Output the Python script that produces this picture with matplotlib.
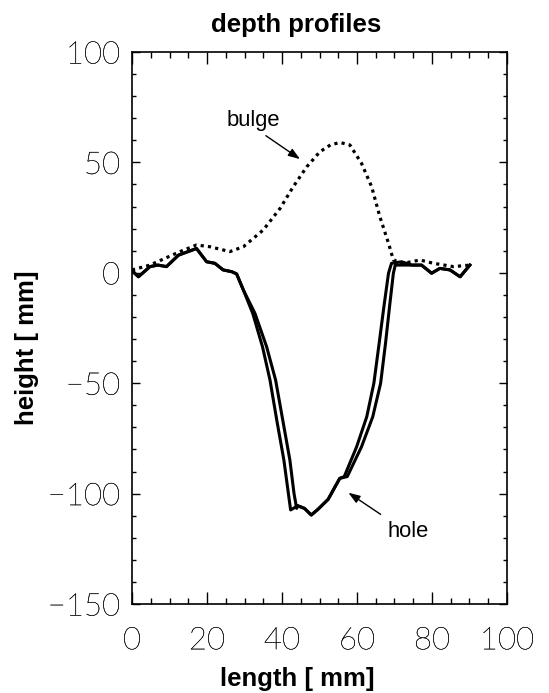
import numpy as np
import matplotlib.pyplot as plt
import matplotlib.patheffects as pe
from matplotlib.ticker import MultipleLocator

# bulge profile (dotted)
bulge_x = [0, 4.8, 12.8, 17.2, 20.8, 26.1, 29.7, 35.0, 39.5, 43.0, 46.6, 50.1,
           53.0, 55.5, 58.1, 61.2, 63.9, 66.1, 68.4, 69.7, 72.4, 76.8, 80.4, 85.7, 90.1]
bulge_y = [1.3, 3.5, 9.6, 12.6, 11.8, 9.6, 11.8, 19.4, 29.2, 39.0, 48.0, 54.8,
           58.0, 59.0, 57.9, 49.6, 39.0, 25.4, 13.4, 5.8, 4.3, 5.8, 4.3, 2.8, 3.5]

# hole profiles (solid), two measurements
hole1_x = [0, 1.7, 4.8, 6.9, 9.2, 12.4, 17.2, 19.9, 22.1, 24.3, 26.6, 27.9,
           29.7, 32.2, 34.8, 36.8, 38.6, 40.5, 41.7, 42.3, 44.2, 46.0, 47.8,
           49.6, 52.3, 55.4, 56.6, 59.9, 62.6, 64.5, 65.9, 67.2, 68.4, 69.2,
           71.9, 74.6, 77.2, 79.9, 82.1, 84.8, 87.5, 90.1]
hole1_y = [1.0, -1.8, 2.8, 3.5, 2.8, 8.0, 11.0, 5.0, 4.3, 1.3, 0.5, -0.5,
           -7.8, -18.4, -33.5, -48.6, -66.7, -84.8, -99.9, -107.4, -105.5, -106.7, -109.7,
           -107.1, -102.6, -93.1, -92.3, -78.8, -65.2, -50.0, -32.0, -15.0, -0.2, 4.3,
           5.0, 3.5, 3.5, -0.2, 2.0, 1.3, -1.8, 3.5]
hole2_x = [0, 1.7, 4.8, 6.9, 9.2, 12.4, 17.2, 19.9, 22.1, 24.3, 26.6, 27.9,
           29.7, 32.8, 35.9, 38.3, 40.2, 42.1, 43.2, 43.9, 44.2, 46.0, 47.8,
           49.6, 52.3, 55.4, 57.4, 61.2, 64.2, 66.3, 67.6, 68.7, 69.7, 70.2,
           72.4, 74.6, 77.2, 79.9, 82.1, 84.8, 87.5, 90.1]
hole2_y = [1.0, -1.8, 2.8, 3.5, 2.8, 8.0, 11.0, 5.0, 4.3, 1.3, 0.5, -0.5,
           -7.8, -18.4, -33.5, -48.6, -66.7, -84.8, -99.9, -106.7, -105.5, -106.7, -109.7,
           -107.1, -102.6, -93.1, -92.3, -78.8, -65.2, -50.0, -32.0, -15.0, -0.2, 3.5,
           3.5, 3.5, 3.5, -0.2, 2.0, 1.3, -1.8, 3.5]

W, H = 549, 693
tick_font = {'family': 'Lato', 'weight': 'light', 'size': 22.5}
label_font = {'family': 'Liberation Sans', 'weight': 'bold', 'size': 18.5}
note_font = {'family': 'Liberation Sans', 'size': 15.8}

fig = plt.figure(figsize=(W / 100, H / 100), dpi=100)
ax = fig.add_axes([132 / W, 1 - 604 / H, 375 / W, 552 / H])

ax.plot(hole1_x, hole1_y, color='black', lw=2.2)
ax.plot(hole2_x, hole2_y, color='black', lw=2.2)
ax.plot(bulge_x, bulge_y, color='black', lw=2.3, linestyle=(0, (1.0, 1.3)))

arrow = dict(arrowstyle='-|>,head_length=0.7,head_width=0.25', color='black',
             lw=1.0, mutation_scale=10, shrinkA=0, shrinkB=0)
ax.annotate('', xy=(44.8, 51.5), xytext=(35.7, 62.1), arrowprops=arrow)
ax.annotate('', xy=(57.7, -99.6), xytext=(66.3, -109.4), arrowprops=arrow)
ax.text(32.35, 66.5, 'bulge', ha='center', va='baseline', **note_font)
ax.text(73.6, -119.5, 'hole', ha='center', va='baseline', **note_font)

ax.set_xlim(0, 100)
ax.set_ylim(-150, 100)
ax.xaxis.set_major_locator(MultipleLocator(20))
ax.xaxis.set_minor_locator(MultipleLocator(5))
ax.yaxis.set_major_locator(MultipleLocator(50))
ax.yaxis.set_minor_locator(MultipleLocator(10))
ax.tick_params(which='both', direction='in', top=True, right=True, width=1.0)
ax.tick_params(axis='x', which='major', length=8.8, pad=16)
ax.tick_params(axis='x', which='minor', length=4.6)
ax.tick_params(axis='y', which='major', length=5.8, pad=8.5)
ax.tick_params(axis='y', which='minor', length=2.9)
for lab in ax.get_xticklabels() + ax.get_yticklabels():
    lab.set_fontproperties(tick_font)
    lab.set_path_effects([pe.withStroke(linewidth=0.2, foreground='black')])
for sp in ax.spines.values():
    sp.set_linewidth(1.2)

fig.text(296 / W, 1 - 31.7 / H, 'depth profiles', ha='center', va='baseline', **label_font)
fig.text(297 / W, 1 - 686 / H, 'length [ mm]', ha='center', va='baseline', **label_font)
fig.text(15 / W, 1 - 348 / H, 'height [ mm]', rotation=90, ha='left', va='center', **label_font)

fig.savefig('out.png', dpi=100)
